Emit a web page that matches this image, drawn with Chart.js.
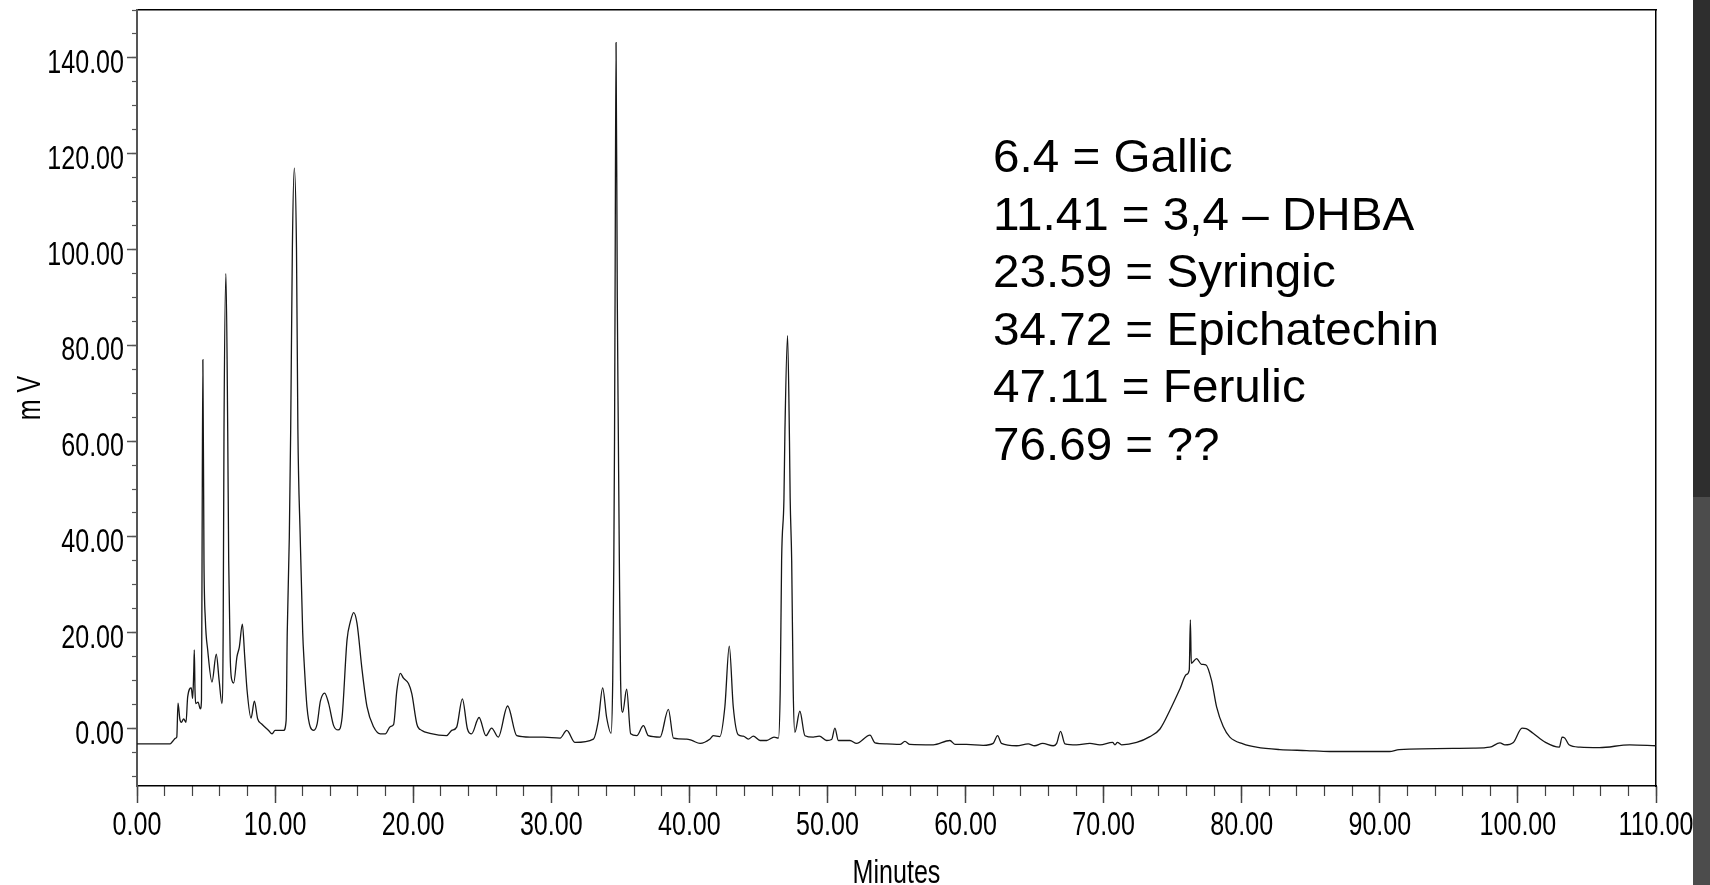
<!DOCTYPE html>
<html>
<head>
<meta charset="utf-8">
<script src="https://cdn.jsdelivr.net/npm/chart.js@4/dist/chart.umd.min.js"></script>
<style>
  html, body { margin: 0; padding: 0; background: #fff; }
  #wrap { position: relative; width: 1710px; height: 885px; overflow: hidden; }
  #strip { position: absolute; left: 1693px; top: 0; width: 17px; height: 885px;
    background: linear-gradient(#2e2e2e 0, #2e2e2e 497px, #4c4c4c 497px, #4c4c4c 885px); }
  #peaks { position: absolute; left: 993px; top: 128px; font-family: "Liberation Sans", Arial, sans-serif;
    font-size: 46px; line-height: 57.6px; color: #000; white-space: pre;
    transform: scaleX(1.035); transform-origin: left top; }
</style>
</head>
<body>
<div id="wrap">
  <canvas id="chromatogram"></canvas>
  <div id="peaks"></div>
  <div id="strip"></div>
</div>
<script>
// retention time (min) and detector signal (mV)
const minutes = [
  0, 2.4, 2.6, 2.8, 2.88, 2.97, 3.1, 3.21, 3.38, 3.55, 3.67, 3.93, 4.03, 4.11, 4.15, 4.2, 4.25, 4.42, 4.59, 4.67,
  4.71, 4.77, 4.85, 4.95, 5.12, 5.43, 5.74, 5.95, 6.15, 6.24, 6.3, 6.44, 6.57, 6.64, 6.75, 6.88, 7.0, 7.24, 7.41, 7.63,
  7.8, 7.97, 8.26, 8.5, 8.74, 9.05, 9.53, 9.78, 10.0, 10.62, 10.8, 10.88, 11.03, 11.13, 11.25, 11.39, 11.55, 11.65, 11.82, 12.0,
  12.1, 12.31, 12.55, 12.8, 13.04, 13.28, 13.59, 13.88, 14.24, 14.56, 14.85, 15.21, 15.45, 15.69, 15.93, 16.3, 16.66, 17.14, 17.62, 17.98,
  18.34, 18.58, 18.82, 19.07, 19.3, 19.66, 19.9, 20.27, 20.63, 21.21, 22.42, 22.79, 23.15, 23.56, 23.93, 24.23, 24.77, 25.27, 25.68, 26.16,
  26.84, 27.5, 28.46, 29.43, 30.64, 31.12, 31.72, 33.05, 33.41, 33.72, 34.01, 34.33, 34.45, 34.53, 34.58, 34.62, 34.69, 34.78, 34.86, 34.93,
  35.02, 35.17, 35.46, 35.75, 36.19, 36.67, 37.03, 37.88, 38.48, 38.85, 39.81, 40.18, 40.78, 41.5, 41.73, 42.2, 42.57, 42.89, 43.18, 43.54,
  43.9, 44.27, 44.63, 45.12, 45.6, 46.13, 46.45, 46.58, 46.68, 46.85, 46.92, 47.11, 47.25, 47.3, 47.41, 47.52, 47.64, 48.0, 48.37, 48.97,
  49.41, 49.94, 50.3, 50.54, 50.79, 51.63, 52.11, 53.08, 53.44, 54.28, 55.25, 55.61, 55.97, 57.66, 58.87, 59.23, 60.07, 61.28, 62.0, 62.32,
  62.6, 63.7, 64.54, 65.0, 65.58, 66.35, 66.6, 66.88, 67.2, 68.04, 69.01, 69.73, 70.65, 70.82, 71.0, 71.3, 72.39, 73.35, 74.08, 74.8,
  75.53, 76.0, 76.2, 76.28, 76.35, 76.73, 77.09, 77.4, 77.81, 78.18, 78.66, 79.14, 80.1, 81.07, 82.76, 84.69, 86.38, 90.7, 91.4, 96.8,
  97.97, 98.7, 99.06, 99.67, 100.3, 100.6, 101.1, 102.0, 103.0, 103.2, 103.4, 103.7, 104.5, 105.9, 108.1, 110
];
const millivolts = [
  -3.2, -3.2, -2.6, -2.0, -1.8, 5.3, 2.0, 1.3, 2.0, 1.3, 6.6, 8.5, 6.3, 12, 16.4, 8, 5.2, 5.5, 4.1, 6,
  35, 77, 35, 22.7, 16.4, 9.7, 15.5, 10, 5.2, 20, 62, 95, 62, 35, 15, 10, 9.5, 15.0, 17, 21.8,
  15, 8.0, 2.2, 5.7, 2.0, 0.9, -0.4, -1.1, -0.4, -0.4, 1.7, 20, 40, 62.5, 100, 117, 100, 62.5, 40, 20,
  14, 4.5, 0.3, -0.4, 0.9, 5.7, 7.4, 5.2, 0.6, -0.3, 2.3, 18.5, 22.3, 24.2, 22, 12.2, 4.5, 0.3, -1.1, -1.1,
  0.4, 0.8, 8.0, 11.5, 10.5, 9.4, 7.3, 0.9, -0.4, -1.0, -1.5, -0.4, 0.3, 6.2, -0.1, -1.1, 2.3, -1.5, 0.1, -1.8,
  4.7, -1.5, -1.8, -1.8, -2.0, -0.4, -2.9, -2.2, 1.7, 8.5, 2.3, -1.0, 10, 35, 60, 90, 143.2, 90, 60, 35,
  10, 3.4, 8.2, -1.1, -1.5, 0.6, -1.5, -1.8, 4.0, -2.0, -2.2, -2.5, -3.1, -2.2, -1.5, -1.7, 4.5, 17.2, 4.5, -1.3,
  -1.6, -2.2, -1.6, -2.5, -2.5, -1.8, -2.0, 8, 35, 48, 62, 82, 60, 48, 35, 8, -0.8, 3.6, -1.5, -1.8,
  -1.6, -2.5, -2.3, 0.1, -2.5, -2.5, -3.1, -1.4, -3.0, -3.2, -3.3, -2.7, -3.3, -3.4, -2.5, -3.3, -3.3, -3.5, -3.1, -1.5,
  -3.1, -3.6, -3.2, -3.6, -3.1, -3.6, -3.1, -0.6, -3.2, -3.4, -3.1, -3.4, -2.9, -3.4, -2.9, -3.4, -2.9, -1.7, -0.1, 3.8,
  8.3, 11.3, 12.2, 22.7, 13.6, 14.6, 13.4, 13.3, 10.1, 4.5, 0.4, -1.8, -3.2, -3.9, -4.4, -4.6, -4.8, -4.8, -4.4, -4.1,
  -3.9, -3.0, -3.4, -2.9, 0.1, 0.0, -1.0, -2.9, -3.9, -1.8, -2.0, -3.4, -3.9, -4.0, -3.4, -3.6
];
const peakNotes = [
  '6.4 = Gallic',
  '11.41 = 3,4 \u2013 DHBA',
  '23.59 = Syringic',
  '34.72 = Epichatechin',
  '47.11 = Ferulic',
  '76.69 = ??'
];
const xTitle = 'Minutes';
const yTitle = 'm V';

document.getElementById('peaks').textContent = peakNotes.join('\n');

// the original uses a narrow face (Arial Narrow); squeeze Liberation Sans to match
const narrow = 0.76;
const labelFont = '33px "Liberation Sans", Arial, sans-serif';

const narrowLabels = {
  id: 'narrowLabels',
  afterDraw(chart) {
    const { ctx, chartArea } = chart;
    const x = chart.scales.x, y = chart.scales.y;
    const put = (text, px, py, rot) => {
      ctx.save();
      ctx.translate(px, py);
      if (rot) ctx.rotate(rot);
      ctx.scale(narrow, 1);
      ctx.fillText(text, 0, 0);
      ctx.restore();
    };
    ctx.save();
    ctx.font = labelFont;
    ctx.fillStyle = '#000';
    ctx.textBaseline = 'alphabetic';
    ctx.textAlign = 'right';
    y.ticks.forEach(t => put(t.value.toFixed(2), y.right - 13, y.getPixelForValue(t.value) + 15));
    ctx.textAlign = 'center';
    x.ticks.forEach(t => put(t.value.toFixed(2), x.getPixelForValue(t.value), x.top + 49));
    put(xTitle, (chartArea.left + chartArea.right) / 2, chart.height - 2);
    put(yTitle, 40, (chartArea.top + chartArea.bottom) / 2, -Math.PI / 2);
    ctx.restore();
  }
};

const fixWidth = w => scale => { scale.width = w; };
const fixHeight = h => scale => { scale.height = h; };

const trace = minutes.map((t, i) => ({ x: t, y: millivolts[i] }));

new Chart(document.getElementById('chromatogram'), {
  type: 'line',
  data: {
    datasets: [{
      data: trace,
      borderColor: '#161616',
      borderWidth: 1.3,
      pointRadius: 0,
      fill: false,
      cubicInterpolationMode: 'monotone'
    }]
  },
  plugins: [narrowLabels],
  options: {
    responsive: true,
    maintainAspectRatio: false,
    animation: false,
    layout: { padding: { top: 10, right: 54, left: 0, bottom: 0 } },
    plugins: { legend: { display: false }, tooltip: { enabled: false } },
    scales: {
      x: {
        type: 'linear', position: 'bottom', weight: 1, min: 0, max: 110,
        grid: { drawOnChartArea: false, tickLength: 17, tickColor: '#444', tickWidth: 1.5 },
        border: { display: true, color: '#000', width: 1.5 },
        ticks: { stepSize: 10, autoSkip: false, display: false },
        afterFit: fixHeight(99)
      },
      xMinor: {
        type: 'linear', position: 'bottom', weight: 0, min: 0, max: 110,
        grid: { drawOnChartArea: false, tickLength: 10, tickColor: '#444', tickWidth: 1.2 },
        border: { display: false },
        ticks: { stepSize: 2, autoSkip: false, display: false },
        afterFit: fixHeight(0)
      },
      xTop: {
        type: 'linear', position: 'top', min: 0, max: 110,
        grid: { display: false }, ticks: { display: false },
        border: { display: true, color: '#000', width: 1.5 },
        afterFit: fixHeight(0)
      },
      y: {
        type: 'linear', position: 'left', weight: 1, min: -12, max: 150,
        grid: { drawOnChartArea: false, tickLength: 10, tickColor: '#555', tickWidth: 1.5 },
        border: { display: true, color: '#555', width: 2 },
        ticks: { stepSize: 20, includeBounds: false, display: false },
        afterFit: fixWidth(137)
      },
      yMinor: {
        type: 'linear', position: 'left', weight: 0, min: -12, max: 150,
        grid: { drawOnChartArea: false, tickLength: 5, tickColor: '#555', tickWidth: 1.2 },
        border: { display: false },
        ticks: { stepSize: 5, includeBounds: false, display: false },
        afterFit: fixWidth(0)
      },
      yRight: {
        type: 'linear', position: 'right', min: -12, max: 150,
        grid: { display: false }, ticks: { display: false },
        border: { display: true, color: '#000', width: 1.5 },
        afterFit: fixWidth(0)
      }
    }
  }
});
</script>
</body>
</html>
